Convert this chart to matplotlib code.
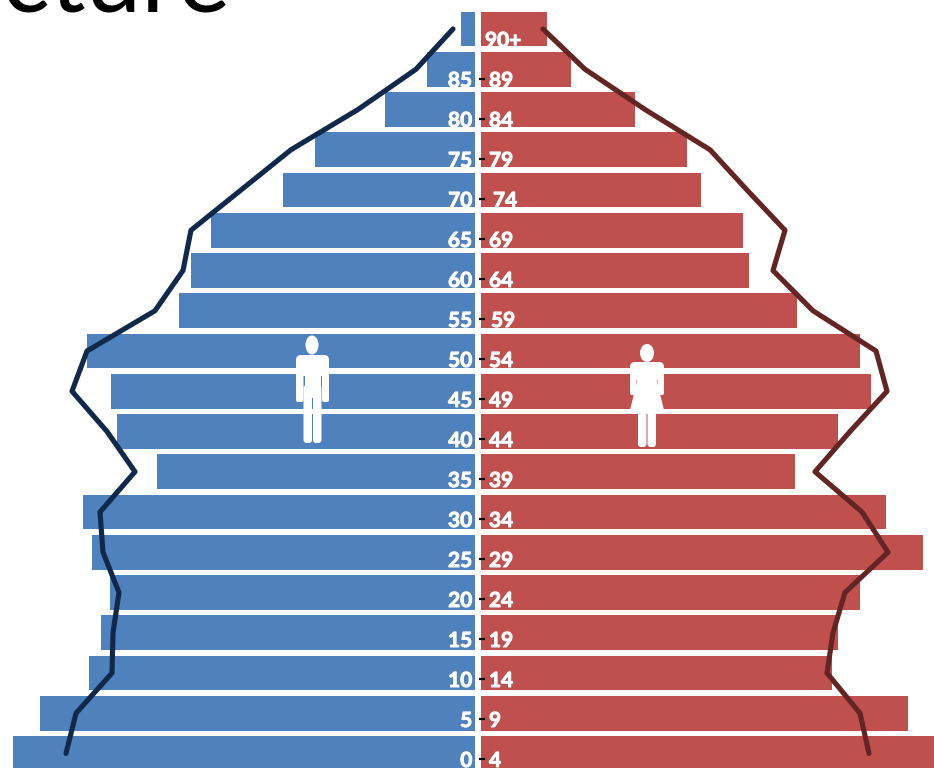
import matplotlib
matplotlib.use("Agg")
import matplotlib.pyplot as plt
from matplotlib.patches import Ellipse, FancyBboxPatch, Polygon
from matplotlib.transforms import blended_transform_factory as btf
import matplotlib.patheffects as pe

W, H = 934, 768
FONT = "Lato"
BLUE, RED = "#4f81bd", "#c0504d"
NAVY, MAROON = "#10294a", "#632523"

lower_labels = ["0","5","10","15","20","25","30","35","40","45","50","55","60","65","70","75","80","85"]
upper_labels = ["4","9","14","19","24","29","34","39","44","49","54","59","64","69","74","79","84","89"]
top_label = "90+"

# population by age band, youngest first
male_bars   = [462,435,386,374,365,383,392,318,358,364,388,296,284,264,192,160,90,48,14]
female_bars = [462,427,351,357,379,442,405,314,357,390,379,316,268,262,220,206,154,90,66]
male_line   = [409,399,363,362,356,372,375,340,368,403,388,320,292,284,234,184,117,59,22]
female_line = [388,379,346,352,364,407,381,334,369,406,395,332,292,304,266,229,164,104,62]

fig = plt.figure(figsize=(W/100, H/100), dpi=100, facecolor="white")

def make_axes(left, right, xlim, z):
    ax = fig.add_axes([left/W, 0, (right-left)/W, 1], zorder=z)
    ax.set_xlim(*xlim)
    ax.set_ylim(-14.5/40.25, 753.5/40.25)
    ax.axis("off")
    return ax

axl = make_axes(0, 475, (475, 0), 1)
axr = make_axes(481, 934, (0, 453), 1)
rows = list(range(len(male_bars)))
axl.barh(rows, male_bars, height=0.86, color=BLUE)
axr.barh(rows, female_bars, height=0.86, color=RED)

# overlay in figure pixels, for labels, ticks and the pictograms
ov = fig.add_axes([0, 0, 1, 1], zorder=3)
ov.set_xlim(0, W); ov.set_ylim(H, 0); ov.axis("off")

# age axis sits on its own 40-pixel pitch
lab = fig.add_axes([478.5/W, 0, 10/W, 1], zorder=4)
lab.patch.set_alpha(0)
lab.set_ylim(-9/40, 759/40)
lab.set_xlim(0, 1)
for s in lab.spines.values():
    s.set_visible(False)
lab.set_xticks([])
lab.set_yticks(range(len(lower_labels)))
bold = [pe.withStroke(linewidth=0.7, foreground="white")]
ticklabels = lab.set_yticklabels(lower_labels, fontfamily=FONT, fontweight="bold", fontsize=15, color="white")
for t in ticklabels:
    t.set_path_effects(bold)
lab.tick_params(axis="y", direction="in", length=4, width=1.6, color="black", pad=4.5)
tr = btf(ov.transData, lab.transData)
for i, t in enumerate(upper_labels):
    x = 493 if t == "74" else 491 if t == "59" else 489
    lab.text(x, i, t, transform=tr, fontfamily=FONT, fontweight="bold", fontsize=15,
             color="white", ha="left", va="center_baseline", clip_on=False, path_effects=bold)
lab.text(485, len(upper_labels), top_label, transform=tr, fontfamily=FONT, fontweight="bold",
         fontsize=15, color="white", ha="left", va="center_baseline", path_effects=bold)

axl2 = make_axes(0, 475, (475, 0), 5)
axr2 = make_axes(481, 934, (0, 453), 5)
axl2.plot(male_line, rows, color=NAVY, lw=3.7, solid_capstyle="round", solid_joinstyle="round")
axr2.plot(female_line, rows, color=MAROON, lw=3.7, solid_capstyle="round", solid_joinstyle="round")

# pictograms
def rrect(x0, y0, x1, y1, r=3):
    ov.add_patch(FancyBboxPatch((x0+r, y0+r), x1-x0-2*r, y1-y0-2*r,
                                boxstyle=f"round,pad={r}", fc="white", ec="none", zorder=2))

# man
ov.add_patch(Ellipse((312, 345), 13, 19, fc="white", ec="none"))
rrect(296, 355, 329, 376, 5)
rrect(296, 365, 303.5, 402, 2)
rrect(322, 365, 329, 402, 2)
ov.fill_between([304.5, 320.5], 370, 398, color="white", lw=0)
rrect(303.5, 385, 312, 443, 3)
rrect(313, 385, 321.5, 443, 3)
# woman
ov.add_patch(Ellipse((647, 353), 14, 18, fc="white", ec="none"))
rrect(630, 362, 664, 380, 5)
rrect(630, 372, 636.5, 395, 2)
rrect(657.5, 372, 664, 395, 2)
ov.add_patch(Polygon([(638, 375), (656, 375), (657, 382), (664, 410), (630, 410), (637, 382)], fc="white", ec="none"))
rrect(638, 400, 646.5, 447, 3)
rrect(647.5, 400, 656, 447, 3)

# title remnant, cropped by the top-left corner of the picture
ov.text(231, 12, "Structure", fontfamily="Lato", fontsize=72, color="black",
        ha="right", va="baseline", clip_on=False)

fig.savefig("out.png", dpi=100)
